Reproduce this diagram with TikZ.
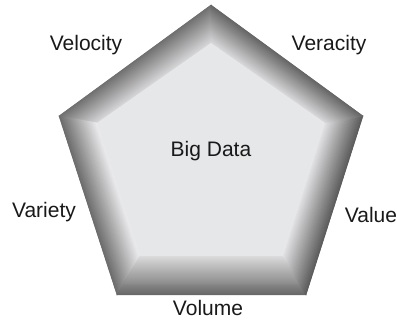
\documentclass[tikz,border=0pt]{standalone}
\usepackage{fontspec}
\setmainfont{Liberation Sans}
\usetikzlibrary{calc}
\definecolor{face}{HTML}{E6E7E9}
\definecolor{dkA}{HTML}{6E6E6E}
\definecolor{ltA}{HTML}{D6D6D8}
\definecolor{dkB}{HTML}{6A6A6A}
\definecolor{ltB}{HTML}{ECECEE}
\definecolor{dkC}{HTML}{666666}
\definecolor{ltC}{HTML}{DCDCDE}
\definecolor{dkD}{HTML}{5A5A5A}
\definecolor{ltD}{HTML}{E2E2E4}
\definecolor{dkE}{HTML}{646464}
\definecolor{ltE}{HTML}{D8D8DA}
\newcommand\bevelside[6]{%
  \foreach \k in {0,...,39}{%
    \pgfmathsetmacro\ka{\k/40}%
    \pgfmathsetmacro\kb{(\k+1)/40}%
    \pgfmathsetmacro\pa{100*(\k+0.5)/40}%
    \fill[draw,line width=0.5pt,color=#6!\pa!#5]
      ($(#1)!\ka!(#3)$) -- ($(#2)!\ka!(#4)$) -- ($(#2)!\kb!(#4)$) -- ($(#1)!\kb!(#3)$) -- cycle;
  }%
}
\begin{document}
\begin{tikzpicture}[x=1pt,y=1pt,
  lbl/.style={font=\fontsize{21}{25}\selectfont,text=black!90,inner sep=0pt,anchor=base}]
\useasboundingbox (0,0) rectangle (397,323);
% outer
\coordinate (T)  at (211,318);
\coordinate (L)  at (59,207);
\coordinate (R)  at (363,207);
\coordinate (BL) at (117,28);
\coordinate (BR) at (306,28);
% inner
\coordinate (t)  at (211,280);
\coordinate (l)  at (97,200);
\coordinate (r)  at (325,200);
\coordinate (bl) at (140,67);
\coordinate (br) at (283,67);
\bevelside{T}{L}{t}{l}{dkA}{ltA}
\bevelside{L}{BL}{l}{bl}{dkB}{ltB}
\bevelside{BL}{BR}{bl}{br}{dkC}{ltC}
\bevelside{BR}{R}{br}{r}{dkD}{ltD}
\bevelside{R}{T}{r}{t}{dkE}{ltE}
\fill[face] (t) -- (l) -- (bl) -- (br) -- (r) -- cycle;
\node[lbl] (bd)  at (211,166) {Big Data};
\node[lbl] (vel) at (86,272) {Velocity};
\node[lbl] (ver) at (329,272) {Veracity};
\node[lbl] (var) at (44,105) {Variety};
\node[lbl] (val) at (371,100) {Value};
\node[lbl] (vol) at (208,7) {Volume};
\end{tikzpicture}
\end{document}
